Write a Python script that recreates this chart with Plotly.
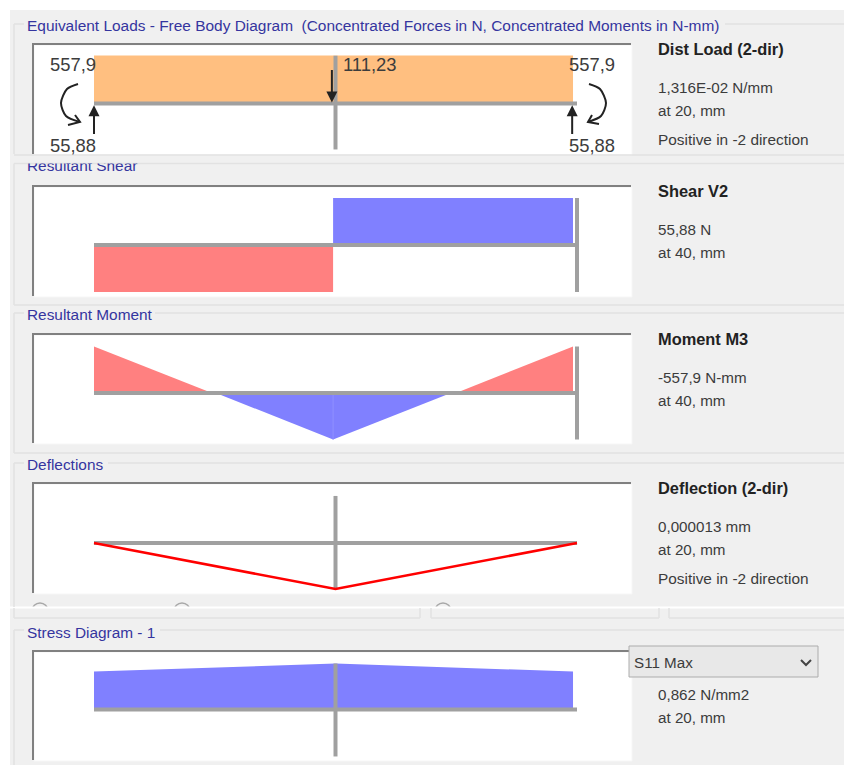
import plotly.graph_objects as go

W, H = 844, 765
BG = "#F0F0F0"
GREY = "#A0A0A0"
RED = "#FF8080"
BLUE = "#8080FF"
ORANGE = "#FFBF80"
TITLE = "#35359F"
TEXT = "#3C3C3C"
FONT = "Liberation Sans"

# ---- data (stations in mm, values in panel units) ----
beam_x = [0, 40]
mid_x = [20, 20]
end_x = [40, 40]

load_x = [0, 39.67, 39.67, 0]
load_y = [0.01316, 0.01316, 0, 0]
load_mid_y = [0.0131, -0.0126]
arrow_up_y = [-0.00877, -0.0005]
arrow_down_y = [0.0096, 0.0003]

shear_neg_x = [0, 19.8, 19.8, 0]
shear_neg_y = [0, 0, -55.88, -55.88]
shear_pos_x = [19.8, 39.67, 39.67, 19.8]
shear_pos_y = [55.88, 55.88, 0, 0]
shear_end_y = [55.88, -55.88]

moment_l_x = [0, 9.77, 0]
moment_l_y = [-557.9, 0, 0]
moment_m_x = [10.1, 19.8, 29.56]
moment_m_y = [0, 557.9, 0]
moment_r_x = [29.98, 39.67, 39.67]
moment_r_y = [0, -557.9, 0]
moment_seam_x = [19.8, 19.8]
moment_seam_y = [0, 557.9]
moment_end_y = [-557.9, 557.9]

defl_x = [0, 20, 40]
defl_y = [0, 0.000013, 0]
defl_mid_y = [-0.0000133, 0.000013]

stress_x = [0, 20, 39.67, 39.67, 0]
stress_y = [0.712, 0.862, 0.712, 0, 0]
stress_mid_y = [0.862, -0.88]

# panel geometry: top px, bottom px, baseline px, px per unit, reversed
PANELS = [
    (45, 154, 103.5, 48 / 0.01316, False),
    (187, 296, 245, 47 / 55.88, False),
    (335, 443, 393, 46.5 / 557.9, True),
    (484, 593, 543, 46 / 0.000013, True),
    (652, 760, 709.5, 46 / 0.862, False),
]
X_PER_MM = 12.075
X0 = 94
L, R = 34, 631

fig = go.Figure()
layout = {}
shapes = []


def px(x):
    return x / W


def py(y):
    return 1 - y / H


def rect(x0, y0, x1, y1, fill, lc=None, layer="below"):
    shapes.append(dict(type="rect", xref="paper", yref="paper", x0=px(x0), y0=py(y0), x1=px(x1), y1=py(y1),
                       fillcolor=fill, line=dict(width=1 if lc else 0, color=lc or fill), layer=layer))


def seg(x0, y0, x1, y1, c="#E2E2E2", w=1.5):
    shapes.append(dict(type="line", xref="paper", yref="paper", x0=px(x0), y0=py(y0), x1=px(x1), y1=py(y1),
                       line=dict(color=c, width=w), layer="below"))


# dialog background
rect(10, 10, 844, 765, BG)
for cx in (40, 182, 443):
    shapes.append(dict(type="circle", xref="paper", yref="paper", x0=px(cx - 8), y0=py(603), x1=px(cx + 8), y1=py(619),
                       line=dict(color="#A8A8A8", width=1.5), fillcolor=BG, layer="below"))
rect(10, 607, 844, 640, BG)
seg(10, 607.5, 844, 607.5, "#FFFFFF", 2)

for i, (t, b, base, s, rev) in enumerate(PANELS, start=1):
    sfx = "" if i == 1 else str(i)
    yr = [(b - base) / s, -(base - t) / s] if rev else [-(b - base) / s, (base - t) / s]
    layout["xaxis" + sfx] = dict(
        domain=[L / W, R / W], range=[(L - X0) / X_PER_MM, (R - X0) / X_PER_MM],
        anchor="y" + sfx, side="top", showline=True, linecolor="#808080", linewidth=2,
        showgrid=False, zeroline=False, showticklabels=False, ticks="", fixedrange=True)
    layout["yaxis" + sfx] = dict(
        domain=[1 - b / H, 1 - t / H], range=yr, anchor="x" + sfx, showline=True,
        linecolor="#808080", linewidth=2, showgrid=False, zeroline=False,
        showticklabels=False, ticks="", fixedrange=True)
    rect(L, t, R + 1, b + 1, "#FFFFFF", "#F6F6F6")


def poly(x, y, color, p):
    sfx = "" if p == 1 else str(p)
    fig.add_trace(go.Scatter(x=x, y=y, fill="toself", fillcolor=color, mode="lines",
                             line=dict(width=0, color=color), xaxis="x" + sfx, yaxis="y" + sfx,
                             hoverinfo="skip", showlegend=False))


def line(x, y, color, width, p):
    sfx = "" if p == 1 else str(p)
    fig.add_trace(go.Scatter(x=x, y=y, mode="lines", line=dict(width=width, color=color),
                             xaxis="x" + sfx, yaxis="y" + sfx, hoverinfo="skip", showlegend=False))


poly(load_x, load_y, ORANGE, 1)
line(beam_x, [0, 0], GREY, 4, 1)
line(mid_x, load_mid_y, GREY, 4, 1)

poly(shear_neg_x, shear_neg_y, RED, 2)
poly(shear_pos_x, shear_pos_y, BLUE, 2)
line(beam_x, [0, 0], GREY, 4, 2)
line(end_x, shear_end_y, GREY, 4, 2)

poly(moment_l_x, moment_l_y, RED, 3)
poly(moment_m_x, moment_m_y, BLUE, 3)
poly(moment_r_x, moment_r_y, RED, 3)
line(moment_seam_x, moment_seam_y, "#9090FF", 1, 3)
line(beam_x, [0, 0], GREY, 4, 3)
line(end_x, moment_end_y, GREY, 4, 3)

line(beam_x, [0, 0], GREY, 4, 4)
line(mid_x, defl_mid_y, GREY, 4, 4)
line(defl_x, defl_y, "#FF0000", 2.5, 4)

poly(stress_x, stress_y, BLUE, 5)
line(beam_x, [0, 0], GREY, 4, 5)
line(mid_x, stress_mid_y, GREY, 4, 5)

# overlay in pixel space for moment arcs
layout["xaxis6"] = dict(domain=[0, 1], range=[0, W], visible=False, anchor="y6", fixedrange=True)
layout["yaxis6"] = dict(domain=[0, 1], range=[H, 0], visible=False, anchor="x6", fixedrange=True)
# clipped strip for the half-hidden "Resultant Shear" caption
layout["xaxis7"] = dict(domain=[0, 1], range=[0, W], visible=False, anchor="y7", fixedrange=True)
layout["yaxis7"] = dict(domain=[1 - 176 / H, 1 - 163.5 / H], range=[176, 163.5], visible=False,
                        anchor="x7", fixedrange=True)

fig.add_trace(go.Scatter(x=[27], y=[167], mode="text", text=["Resultant Shear"], textposition="middle right",
                         textfont=dict(family=FONT, size=15.4, color=TITLE), xaxis="x7", yaxis="y7",
                         hoverinfo="skip", showlegend=False, cliponaxis=True))

arc_xs = [[78, 67, 61, 66, 80], [589, 600, 606, 601, 588]]
arc_ys = [[84, 89, 103, 116, 122], [84, 89, 103, 116, 122]]
head_xs = [[68, 80, 75], [599, 588, 592]]
head_ys = [[125, 122, 115], [124, 122, 115]]
for ax_, ay_ in zip(arc_xs, arc_ys):
    fig.add_trace(go.Scatter(x=ax_, y=ay_, mode="lines", line=dict(color="#222222", width=2, shape="spline", smoothing=0.8),
                             xaxis="x6", yaxis="y6", hoverinfo="skip", showlegend=False))
for ax_, ay_ in zip(head_xs, head_ys):
    fig.add_trace(go.Scatter(x=ax_, y=ay_, mode="lines", line=dict(color="#222222", width=2),
                             xaxis="x6", yaxis="y6", hoverinfo="skip", showlegend=False))

# group boxes
seg(725, 24, 844, 24)
seg(14, 24, 24, 24)
seg(14, 24, 14, 154)
seg(14, 155, 844, 155)
seg(14, 163.5, 844, 163.5)
seg(14, 163.5, 14, 305)
seg(14, 305, 844, 305)
seg(155, 313, 844, 313)
seg(14, 313, 24, 313)
seg(14, 313, 14, 453)
seg(14, 453, 844, 453)
seg(108, 463, 844, 463)
seg(14, 463, 24, 463)
seg(14, 463, 14, 607)
seg(14, 608, 14, 618)
seg(14, 618, 420, 618)
seg(420, 608, 420, 618)
seg(431, 608, 431, 618)
seg(431, 618, 659, 618)
seg(659, 608, 659, 618)
seg(669, 608, 669, 618)
seg(669, 618, 844, 618)
seg(160, 630, 844, 630)
seg(14, 630, 24, 630)
seg(14, 630, 14, 765)
rect(629, 646, 818, 677, "#E8E8E8", "#ACACAC", "above")
shapes.append(dict(type="path", xref="paper", yref="paper", layer="above",
                   path=f"M {px(801)} {py(660)} L {px(806)} {py(665)} L {px(811)} {py(660)}",
                   line=dict(color="#444444", width=2)))
fig.update_layout(shapes=shapes)

ann = []


def txt(x, y, s, size=15.2, color=TEXT, bold=False, anchor="left"):
    ann.append(dict(x=x - 2, y=y, xref="x6", yref="y6", text=f"<b>{s}</b>" if bold else s, showarrow=False,
                    xanchor=anchor, yanchor="middle", font=dict(family=FONT, size=size, color=color)))


def force(x, y_tail, y_head):
    ann.append(dict(x=x, y=y_head, ax=x, ay=y_tail, xref="x", yref="y", axref="x", ayref="y", text="",
                    showarrow=True, arrowhead=2, arrowsize=1.1, arrowwidth=2, arrowcolor="#222222"))


force(0, arrow_up_y[0], arrow_up_y[1])
force(39.6, arrow_up_y[0], arrow_up_y[1])
force(19.7, arrow_down_y[0], arrow_down_y[1])

txt(27, 25, "Equivalent Loads - Free Body Diagram  (Concentrated Forces in N, Concentrated Moments in N-mm)", 15.45, TITLE)
txt(27, 314, "Resultant Moment", 15.4, TITLE)
txt(27, 464, "Deflections", 15.4, TITLE)
txt(27, 632, "Stress Diagram - 1", 15.4, TITLE)

txt(50, 64, "557,9", 18.4)
txt(569, 64, "557,9", 18.4)
txt(343, 64, "111,23", 18.4)
txt(50, 145, "55,88", 18.4)
txt(569, 145, "55,88", 18.4)

B = 16.4
txt(658, 49, "Dist Load (2-dir)", B, "#222222", True)
txt(658, 87, "1,316E-02 N/mm")
txt(658, 110, "at 20, mm")
txt(658, 139, "Positive in -2 direction", 15.4)
txt(658, 191, "Shear V2", B, "#222222", True)
txt(658, 229, "55,88 N")
txt(658, 252, "at 40, mm")
txt(658, 339, "Moment M3", B, "#222222", True)
txt(658, 377, "-557,9 N-mm")
txt(658, 400, "at 40, mm")
txt(658, 488, "Deflection (2-dir)", B, "#222222", True)
txt(658, 526, "0,000013 mm")
txt(658, 549, "at 20, mm")
txt(658, 578, "Positive in -2 direction", 15.4)
txt(634, 662, "S11 Max")
txt(658, 694, "0,862 N/mm2")
txt(658, 717, "at 20, mm")

fig.update_layout(width=W, height=H, margin=dict(l=0, r=0, t=0, b=0), paper_bgcolor="#FFFFFF",
                  plot_bgcolor="rgba(0,0,0,0)", showlegend=False, annotations=ann, **layout)
fig.write_html("out.html", config=dict(displayModeBar=False),
               post_script="document.body.style.margin='0';")
